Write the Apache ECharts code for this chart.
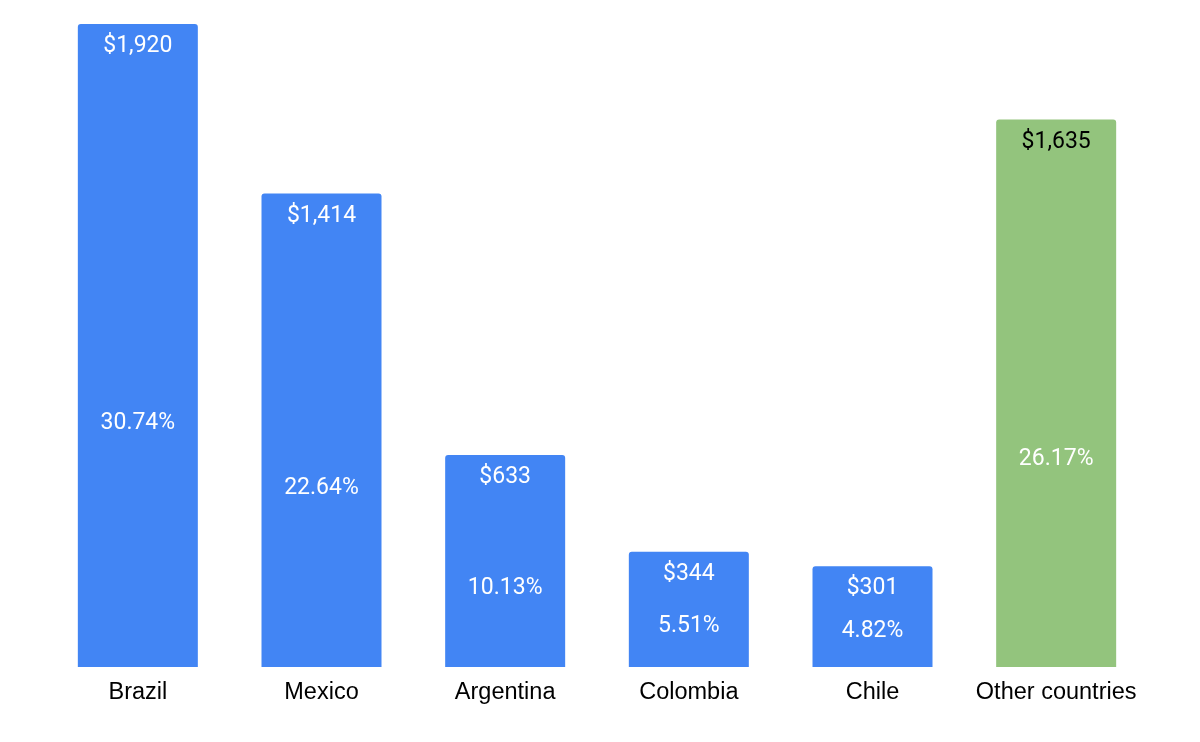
<!DOCTYPE html>
<html>
<head>
<meta charset="utf-8">
<script src="https://cdn.jsdelivr.net/npm/echarts@6/dist/echarts.min.js"></script>
<style>html,body{margin:0;padding:0;background:#fff}#c{width:1200px;height:742px}</style>
</head>
<body>
<div id="c"></div>
<script>
var categories = ['Brazil', 'Mexico', 'Argentina', 'Colombia', 'Chile', 'Other countries'];
var values = [1920, 1414, 633, 344, 301, 1635];
var percents = [30.74, 22.64, 10.13, 5.51, 4.82, 26.17];
var barColors = ['#4285F4', '#4285F4', '#4285F4', '#4285F4', '#4285F4', '#93C47D'];
var topLabelColors = ['#ffffff', '#ffffff', '#ffffff', '#ffffff', '#ffffff', '#000000'];

var chart = echarts.init(document.getElementById('c'));
chart.setOption({
  animation: false,
  grid: { left: 46, right: 52, top: 24, bottom: 75 },
  xAxis: {
    type: 'category',
    data: categories,
    axisLine: { show: false },
    axisTick: { show: false },
    axisLabel: { interval: 0, color: '#000', fontSize: 23.5, fontFamily: 'Liberation Sans', margin: 14 }
  },
  yAxis: { type: 'value', min: 0, max: 1920, show: false, splitLine: { show: false } },
  series: [
    {
      type: 'bar',
      barWidth: 120,
      data: values.map(function (v, i) {
        return {
          value: v,
          itemStyle: { color: barColors[i], borderRadius: [3, 3, 0, 0] },
          label: { color: topLabelColors[i] }
        };
      }),
      label: {
        show: true,
        position: 'insideTop',
        distance: 11,
        fontSize: 23,
        fontFamily: 'Roboto',
        formatter: function (p) { return '$' + p.value.toLocaleString('en-US'); }
      }
    },
    {
      type: 'bar',
      barWidth: 120,
      barGap: '-100%',
      silent: true,
      itemStyle: { color: 'rgba(0,0,0,0)' },
      data: values,
      label: {
        show: true,
        position: ['50%', '61.6%'],
        offset: [0, 3],
        align: 'center',
        verticalAlign: 'middle',
        color: '#fff',
        fontSize: 23,
        fontFamily: 'Roboto',
        formatter: function (p) { return percents[p.dataIndex].toFixed(2) + '%'; }
      }
    }
  ]
});
</script>
</body>
</html>
